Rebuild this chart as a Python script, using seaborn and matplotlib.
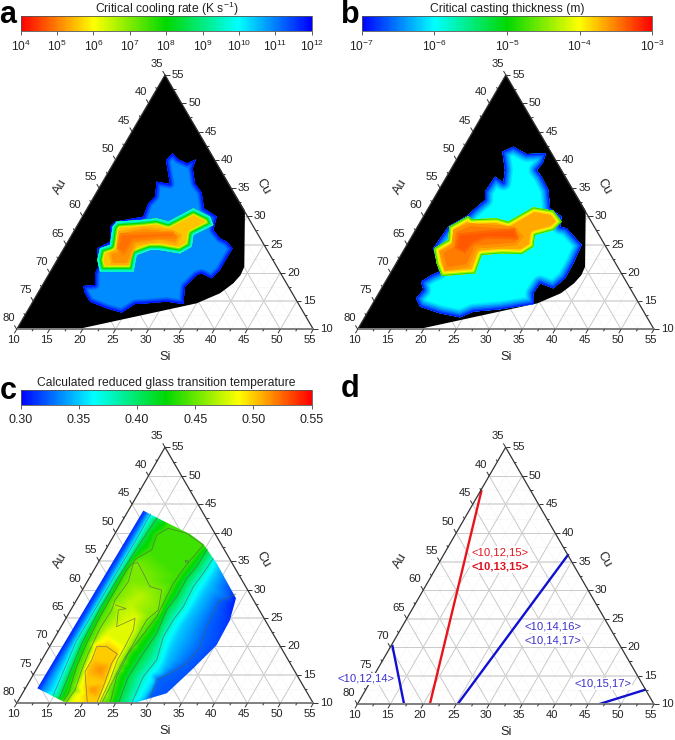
import numpy as np
import pandas as pd
import matplotlib
matplotlib.use("Agg")
import matplotlib.pyplot as plt
import matplotlib.tri as mtri
from matplotlib.collections import LineCollection
from matplotlib.colors import LogNorm, Normalize
from matplotlib.patches import Polygon
from matplotlib.cm import ScalarMappable
import seaborn as sns

# ---- colour scale
scale_hot_to_cold = ["#ff0000", "#ffff00", "#00d800", "#00ffff", "#0000ff"]

# ---- colour bars
a_title = "Critical cooling rate (K s$^{-1}$)"
b_title = "Critical casting thickness (m)"
c_title = "Calculated reduced glass transition temperature"
a_range = (1e4, 1e12)
b_range = (1e-7, 1e-3)
c_range = (0.30, 0.55)
a_ticks = [1e4, 1e5, 1e6, 1e7, 1e8, 1e9, 1e10, 1e11, 1e12]
b_ticks = [1e-7, 1e-6, 1e-5, 1e-4, 1e-3]
c_ticks = [0.30, 0.35, 0.40, 0.45, 0.50, 0.55]

# ---- regions: horizontal position on the Si scale, and Cu (at.%)
a_glass_x = [10, 32.5, 44.63, 44.53, 43.97, 42.86, 40.84, 37.3, 19.86]
a_glass_cu = [10, 55, 31.0, 21.08, 19.6, 18.14, 16.37, 14.6, 10.18]
a_outer_x = [33.66, 34.52, 35.89, 37.2, 36.7, 37.05, 38.06, 38.41, 40.34, 39.83, 40.84, 41.85, 42.76, 41.85,
             40.84, 39.58, 38.06, 37.3, 35.53, 35.28, 32.75, 29.72, 27.95, 25.93, 23.65, 21.12, 20.36, 20.11,
             21.88, 21.88, 22.39, 22.24, 24.16, 24.16, 24.92, 29.21, 29.97, 30.98, 31.24, 33.26, 32.65]
a_outer_cu = [41.13, 40.07, 39.36, 40.07, 38.48, 35.82, 34.17, 31.4, 29.93, 27.57, 26.1, 25.5, 24.33, 22.56,
              20.5, 19.02, 19.9, 19.6, 17.55, 14.48, 14.89, 14.6, 14.48, 12.95, 13.71, 14.89, 16.37, 17.66,
              17.84, 19.9, 21.08, 24.33, 25.5, 28.16, 29.04, 29.93, 32.29, 33.47, 36.12, 35.71, 39.95]
a_core_x = [22.64, 24.16, 24.56, 25.17, 28.96, 31.24, 33.0, 36.8, 39.32, 39.83, 38.31, 36.8, 36.54, 34.77,
            31.74, 30.22, 28.2, 27.7, 22.64, 22.24]
a_core_cu = [24.33, 24.92, 28.16, 29.04, 29.34, 29.63, 29.04, 31.4, 29.93, 28.45, 27.57, 26.69, 24.62, 23.44,
             24.03, 24.03, 23.15, 20.2, 20.2, 22.26]
a_hot_x = [23.9, 25.17, 25.42, 29.21, 33.76, 35.03, 34.27, 31.74, 28.2, 26.94, 24.41]
a_hot_cu = [23.44, 24.03, 27.28, 28.16, 27.57, 26.69, 24.92, 25.5, 24.92, 21.38, 21.38]
a_hottest_x = [25.67, 33.76, 34.27, 31.74, 27.7, 26.28, 25.17]
a_hottest_cu = [26.98, 27.28, 26.1, 26.1, 25.68, 23.15, 24.33]
a_outer_rate = 10 ** 10.9
a_outer_fade = [10 ** 11.1, 10 ** 11.3, 10 ** 11.55, 10 ** 11.85]
a_core_rate = 10 ** 5.55
a_core_fade = [10 ** 6.3, 10 ** 7.2, 10 ** 8.1, 10 ** 9.1, 10 ** 9.9]
a_hot_rate = 10 ** 5.15
a_hot_fade = 10 ** 5.35
a_hottest_rate = 10 ** 4.9
a_hottest_fade = 10 ** 5.02

b_glass_x = [10, 32.5, 44.63, 44.53, 43.97, 42.86, 40.84, 37.3, 19.86]
b_glass_cu = [10, 55, 31.0, 21.08, 19.6, 18.14, 16.37, 14.6, 10.18]
b_outer_x = [33.64, 35.66, 38.6, 38.09, 37.18, 37.94, 38.95, 39.21, 40.98, 40.73, 41.74, 44.02, 42.75, 41.49,
             39.71, 37.69, 36.68, 36.78, 31.61, 27.57, 25.54, 22.5, 19.47, 18.86, 19.97, 19.62, 21.24, 22.4,
             21.49, 23.77, 26.81, 27.57, 29.34, 29.34, 30.86, 32.12, 32.37, 31.97]
b_outer_cu = [42.31, 41.01, 41.13, 39.36, 38.18, 37.0, 34.65, 31.4, 29.93, 28.16, 27.87, 24.92, 21.67, 19.02,
              17.25, 18.14, 16.37, 14.48, 13.54, 13.13, 12.12, 12.83, 14.01, 15.48, 16.96, 18.43, 19.61, 20.2,
              24.33, 28.16, 30.22, 31.11, 32.88, 34.35, 37.0, 35.94, 38.18, 41.43]
b_core_x = [21.59, 23.77, 23.92, 26.81, 27.31, 31.11, 32.88, 36.68, 39.71, 40.98, 39.71, 36.93, 36.68, 34.91,
            31.87, 28.83, 27.82, 22.76, 22.0]
b_core_cu = [24.33, 25.8, 28.16, 30.05, 29.46, 29.63, 29.04, 31.58, 30.99, 29.04, 27.57, 26.69, 24.62, 23.32,
             23.44, 23.15, 19.9, 19.43, 21.67]
b_thick_x = [22.5, 24.27, 24.53, 27.06, 33.89, 35.16, 34.15, 31.61, 28.07, 26.81, 23.26]
b_thick_cu = [23.74, 24.92, 27.57, 28.75, 28.16, 26.39, 24.92, 24.62, 24.33, 21.08, 20.38]
b_thickest_x = [25.29, 33.89, 34.4, 29.59, 27.57, 26.3, 24.78]
b_thickest_cu = [26.98, 27.87, 25.92, 26.1, 25.21, 23.44, 24.33]
b_outer_size = 1e-6
b_outer_fade = [10 ** -6.1, 10 ** -6.22, 10 ** -6.36, 10 ** -6.52, 10 ** -6.7, 10 ** -6.9]
b_core_size = 10 ** -3.67
b_core_fade = [10 ** -3.85, 10 ** -4.05, 10 ** -4.4, 10 ** -4.85]
b_thick_size = 10 ** -3.5
b_thick_fade = 10 ** -3.58
b_thickest_size = 10 ** -3.35
b_thickest_fade = 10 ** -3.42

# ---- panel c: outline and contours (x, Cu), each with its Trg value
c_outline_x = [29.21, 32.75, 36.29, 38.31, 40.34, 43.27, 42.36, 40.34, 36.8, 32.75, 30.22, 27.7, 17.58, 13.13]
c_outline_cu = [43.87, 41.76, 39.76, 38.0, 34.61, 28.46, 24.65, 20.25, 16.15, 11.76, 10.88, 10, 10, 12.64]
c_outline_trg = [0.305, 0.44, 0.44, 0.44, 0.35, 0.305, 0.312, 0.318, 0.32, 0.32, 0.32, 0.355, 0.49, 0.305]

c_edge_x = [13.13, 29.21]
c_edge_cu = [12.64, 43.87]
c_edge_trg = 0.305
c_l033_x = [13.79, 18.19, 23.25, 27.29, 29.72]
c_l033_cu = [12.34, 20.84, 30.8, 38.71, 43.51]
c_l033_trg = 0.33
c_l036_x = [15.56, 19.0, 24.06, 28.1, 30.33]
c_l036_cu = [11.46, 20.84, 30.8, 38.71, 43.28]
c_l036_trg = 0.365
c_l039_x = [16.47, 19.86, 22.64, 25.17, 28.71, 31.24]
c_l039_cu = [10.88, 20.55, 26.7, 31.68, 38.12, 42.52]
c_l039_trg = 0.41
c_l042_x = [17.08, 17.84, 19.1, 20.62, 22.64, 24.66, 26.69, 28.2, 30.48, 31.24, 33.0, 35.79, 38.31, 36.8, 35.53,
            33.76, 32.75, 31.24, 29.72, 26.94, 25.17, 24.16]
c_l042_cu = [10.41, 11.76, 16.44, 20.55, 25.23, 29.33, 33.44, 35.49, 36.95, 39.59, 40.76, 39.88, 37.83, 35.78,
             34.02, 31.09, 28.75, 25.23, 22.89, 18.79, 14.69, 10]
c_l042_trg = 0.44
c_l044_x = [17.48, 18.85, 19.86, 20.87, 22.64, 24.41, 24.92, 26.94, 27.7, 28.35, 29.21, 30.22, 32.0, 31.49,
            29.72, 27.44, 25.93, 24.16, 22.89]
c_l044_cu = [10.12, 12.34, 15.86, 18.79, 23.18, 26.41, 28.16, 31.39, 34.61, 34.73, 32.85, 30.51, 29.92, 26.41,
             24.65, 19.96, 17.03, 12.93, 10]
c_l044_trg = 0.455
c_l047_x = [17.94, 19.35, 20.36, 21.63, 23.65, 25.17, 27.95, 27.7, 26.43, 25.27, 24.16, 22.54]
c_l047_cu = [10, 12.93, 16.15, 20.25, 22.3, 23.48, 24.94, 22.89, 19.96, 17.62, 14.1, 10]
c_l047_trg = 0.48
c_l050_x = [20.72, 20.36, 21.38, 22.13, 23.65, 25.27, 24.41, 23.15, 22.13]
c_l050_cu = [10, 15.57, 17.62, 19.96, 19.96, 18.67, 17.03, 12.93, 10]
c_l050_trg = 0.50
c_notch_x = [25.02, 26.58, 25.42, 25.17]
c_notch_cu = [27.28, 26.64, 26.41, 23.48]
c_notch_trg = 0.47
c_right040_x = [38.92, 37.3, 35.79, 34.27, 32.75, 31.24, 29.21, 26.94, 25.42]
c_right040_cu = [37.13, 34.02, 31.97, 28.75, 26.41, 22.3, 18.79, 14.69, 10]
c_right040_trg = 0.41
c_right038_x = [39.83, 38.31, 36.8, 35.28, 33.76, 32.25, 31.24, 29.21, 27.44]
c_right038_cu = [35.49, 32.85, 30.51, 26.99, 24.65, 21.72, 17.62, 14.69, 10]
c_right038_trg = 0.375
c_right036_x = [40.59, 38.82, 37.3, 35.03, 33.26, 32.25, 30.22, 28.71]
c_right036_cu = [34.02, 30.51, 27.58, 23.48, 19.37, 16.44, 12.34, 10]
c_right036_trg = 0.35
c_right033_x = [43.27, 40.59, 38.82, 37.81, 35.79, 33.26, 31.24, 30.22]
c_right033_cu = [29.22, 27.87, 23.48, 19.96, 17.03, 15.27, 14.1, 10.88]
c_right033_trg = 0.325
c_peak_x = [22.64, 21.38, 28.71, 27.2, 26.0]
c_peak_cu = [15.86, 12.34, 28.75, 27.5, 25.0]
c_peak_trg = [0.515, 0.515, 0.47, 0.472, 0.475]
c_island_x = [35.6, 36.0, 36.0, 35.6, 35.6]
c_island_cu = [35.1, 35.05, 34.8, 34.8, 35.1]

# ---- panel d: composition lines (Si, Cu)
d_red_si = [21.0, 10.1]
d_red_cu = [10.0, 47.5]
d_blue_mid_si = [25.2, 28.9]
d_blue_mid_cu = [10.0, 36.3]
d_blue_left_si = [17.1, 10.1]
d_blue_left_cu = [10.0, 20.4]
d_blue_right_si = [46.6, 52.5]
d_blue_right_cu = [10.0, 12.6]
d_labels = ["<10,12,15>", "<10,13,15>", "<10,14,16>", "<10,14,17>", "<10,12,14>", "<10,15,17>"]
d_label_x = [31.64, 31.64, 39.63, 39.63, 11.31, 47.21]
d_label_cu = [36.56, 34.11, 23.6, 21.15, 14.44, 13.56]
d_label_colors = ["#e01820", "#e01020", "#3a30cc", "#3a30cc", "#3a30cc", "#3a30cc"]
d_label_weights = ["normal", "bold", "normal", "normal", "normal", "normal"]

# ---- ternary axes
scale_start = 10
scale_end = 55
si_ticks = [10, 15, 20, 25, 30, 35, 40, 45, 50, 55]
cu_ticks = [10, 15, 20, 25, 30, 35, 40, 45, 50, 55]
au_ticks = [80, 75, 70, 65, 60, 55, 50, 45, 40, 35]

W, H = 675, 740
sns.set_theme(style="white")
plt.rcParams["font.family"] = ["Liberation Sans", "DejaVu Sans"]
plt.rcParams["mathtext.fontset"] = "custom"
plt.rcParams["mathtext.rm"] = "Liberation Sans"
plt.rcParams["mathtext.default"] = "regular"
INK = "#222222"
TICK_SIZE = 8.1

fig = plt.figure(figsize=(W / 100, H / 100), dpi=100, facecolor="white")
cold_to_hot = sns.blend_palette(scale_hot_to_cold[::-1], n_colors=256, as_cmap=True)
hot_to_cold = sns.blend_palette(scale_hot_to_cold, n_colors=256, as_cmap=True)


def box(x0, x1, y0, y1):
    return [x0 / W, 1 - y1 / H, (x1 - x0) / W, (y1 - y0) / H]


def txy(si, cu):
    si, cu = np.asarray(si, float), np.asarray(cu, float)
    return si + (cu - 10) / 2, cu


def ternary_axes(x0, x1, y0, y1):
    ax = fig.add_axes(box(x0, x1, y0, y1))
    ax.set_xlim(scale_start, scale_end)
    ax.set_ylim(scale_start, scale_end)
    ax.axis("off")
    return ax


def grid(ax):
    minor, major, thick = [], [], []
    for v in np.arange(12.5, 55, 2.5):
        is_major = abs(v / 5 - round(v / 5)) < 1e-6
        bucket = major if is_major else minor
        bucket.append([txy(v, 10), txy(v, 65 - v)])
        (thick if is_major and int(v) in (15, 25, 35, 45) else bucket).append([txy(10, v), txy(65 - v, v)])
        bucket.append([txy(10, v), txy(v, 10)])
    ax.add_collection(LineCollection(minor, colors="#f3f3f3", linewidths=0.4, zorder=1))
    ax.add_collection(LineCollection(major, colors="#c6c6c6", linewidths=0.65, zorder=1))
    ax.add_collection(LineCollection(thick, colors="#d4d4d4", linewidths=1.1, zorder=1))


def frame(ax):
    ax.plot([10, 32.5], [10, 55], color="#333333", lw=0.9, zorder=6, clip_on=False)
    ax.plot([32.5, 55], [55, 10], color="#333333", lw=0.9, zorder=6, clip_on=False)
    ax.plot([10, 55], [10, 10], color="#808080", lw=1.4, zorder=6, clip_on=False)
    segs = []
    for v in np.arange(10, 55.1, 2.5):
        t = 0.7 if abs(v / 5 - round(v / 5)) < 1e-6 else 0.35
        segs.append([txy(v, 10), txy(v, 10 - t)])
        segs.append([txy(10, v), txy(10 - t, v + t)])
        segs.append([txy(65 - v, v), txy(65 - v + t, v)])
    ax.add_collection(LineCollection(segs, colors="#333333", linewidths=0.7, zorder=6, clip_on=False))
    for s, c, au in zip(si_ticks, cu_ticks, au_ticks):
        ax.annotate(str(s), txy(s, 10), xytext=(-3, -11), textcoords="offset pixels", ha="center", va="center",
                    fontsize=TICK_SIZE, color=INK, zorder=8, annotation_clip=False)
        ax.annotate(str(c), txy(65 - c, c), xytext=(13, 0), textcoords="offset pixels", ha="center", va="center",
                    fontsize=TICK_SIZE, color=INK, zorder=8, annotation_clip=False)
        ax.annotate(str(au), txy(10, 90 - au), xytext=(-8, 11), textcoords="offset pixels", ha="center",
                    va="center", fontsize=TICK_SIZE, color=INK, zorder=8, annotation_clip=False)
    ax.annotate("Si", (32.5, 10), xytext=(0, -28), textcoords="offset pixels", ha="center", va="center",
                fontsize=9.2, color=INK, annotation_clip=False)
    ax.annotate("Au", (21.25, 32.5), xytext=(-31, 15), textcoords="offset pixels", ha="center", va="center",
                rotation=60, fontsize=9.2, color=INK, annotation_clip=False)
    ax.annotate("Cu", (43.75, 32.5), xytext=(24, 16), textcoords="offset pixels", ha="center", va="center",
                rotation=-60, fontsize=9.2, color=INK, annotation_clip=False)


def layer(ax, x, y, fill, fades=(), widths=(), z=3):
    xy = np.column_stack([x, y])
    base = Polygon(xy, closed=True, fc=fill, ec="none", zorder=z)
    ax.add_patch(base)
    for col, lw in zip(fades, widths):
        ring = Polygon(xy, closed=True, fill=False, ec=col, lw=lw, joinstyle="round", zorder=z)
        ax.add_patch(ring)
        ring.set_clip_path(base)


def colorbar(x0, x1, y0, y1, cmap, norm, title, title_xy, size, ticks):
    cax = fig.add_axes(box(x0, x1, y0, y1))
    cb = fig.colorbar(ScalarMappable(norm=norm, cmap=cmap), cax=cax, orientation="horizontal", ticks=ticks)
    cb.outline.set_linewidth(0.6)
    cb.outline.set_edgecolor("#555555")
    cb.ax.tick_params(which="major", length=3, width=0.6, color="#444444", labelsize=size, labelcolor=INK, pad=3,
                      bottom=True)
    cb.ax.minorticks_off()
    fig.text(title_xy[0] / W, 1 - title_xy[1] / H, title, ha="center", va="center", fontsize=8.7, color=INK)
    return cb


def fill_in(x, y, v, spacing=1.5):
    """Extra mesh vertices along a read polyline, so the colour mesh follows it."""
    x, y = np.asarray(x, float), np.asarray(y, float)
    v = np.full(len(x), v, float) if np.isscalar(v) else np.asarray(v, float)
    s = np.r_[0, np.cumsum(np.hypot(np.diff(x), np.diff(y)))]
    t = np.unique(np.r_[s, np.arange(0, s[-1], spacing)])
    return pd.DataFrame({"x": np.interp(t, s, x), "cu": np.interp(t, s, y), "trg": np.interp(t, s, v)})


def soften(z, k=7):
    """Box-smooth a gridded field, ignoring the cells outside the mesh."""
    vals = np.where(np.isnan(z), 0.0, z)
    wts = (~np.isnan(z)).astype(float)
    ker = np.ones(k) / k
    for axis in (0, 1):
        vals = np.apply_along_axis(lambda m: np.convolve(m, ker, mode="same"), axis, vals)
        wts = np.apply_along_axis(lambda m: np.convolve(m, ker, mode="same"), axis, wts)
    return np.where(wts > 0, vals / np.maximum(wts, 1e-9), np.nan)


# panel a
norm_a = LogNorm(*a_range)
colorbar(20.7, 311.7, 15.7, 30.7, hot_to_cold, norm_a, a_title, (166.5, 9), 8.6, a_ticks)
ax = ternary_axes(16.7, 313.3, 75, 329.3)
grid(ax)
layer(ax, a_glass_x, a_glass_cu, "black", z=2)
col = lambda v: hot_to_cold(norm_a(v))
layer(ax, a_outer_x, a_outer_cu, col(a_outer_rate), [col(v) for v in a_outer_fade], [6.5, 5, 3.5, 1.8])
layer(ax, a_core_x, a_core_cu, col(a_core_rate), [col(v) for v in a_core_fade], [8.5, 7, 5.4, 3.6, 1.8], z=4)
layer(ax, a_hot_x, a_hot_cu, col(a_hot_rate), [col(a_hot_fade)], [3], z=4)
layer(ax, a_hottest_x, a_hottest_cu, col(a_hottest_rate), [col(a_hottest_fade)], [3], z=4)
frame(ax)

# panel b
norm_b = LogNorm(*b_range)
colorbar(361.7, 652.3, 15.7, 30.7, cold_to_hot, norm_b, b_title, (507, 9), 8.6, b_ticks)
ax = ternary_axes(357.7, 654, 75, 329.3)
grid(ax)
layer(ax, b_glass_x, b_glass_cu, "black", z=2)
col = lambda v: cold_to_hot(norm_b(v))
layer(ax, b_outer_x, b_outer_cu, col(b_outer_size), [col(v) for v in b_outer_fade], [11.5, 9.5, 7.5, 5.5, 3.5, 1.6])
layer(ax, b_core_x, b_core_cu, col(b_core_size), [col(v) for v in b_core_fade], [6.5, 4.6, 3, 1.4], z=4)
layer(ax, b_thick_x, b_thick_cu, col(b_thick_size), [col(b_thick_fade)], [4], z=4)
layer(ax, b_thickest_x, b_thickest_cu, col(b_thickest_size), [col(b_thickest_fade)], [3], z=4)
frame(ax)

# panel c
norm_c = Normalize(*c_range)
colorbar(20.7, 311.7, 390, 405.3, cold_to_hot, norm_c, c_title, (166, 383), 9.0, c_ticks)
ax = ternary_axes(16.7, 313.3, 447.3, 703.3)
grid(ax)
sets = [(c_edge_x, c_edge_cu, c_edge_trg),
        (c_outline_x[:11], c_outline_cu[:11], c_outline_trg[:11]),
        (c_l033_x, c_l033_cu, c_l033_trg), (c_l036_x, c_l036_cu, c_l036_trg),
        (c_l039_x, c_l039_cu, c_l039_trg), (c_l042_x, c_l042_cu, c_l042_trg),
        (c_l044_x, c_l044_cu, c_l044_trg), (c_l047_x, c_l047_cu, c_l047_trg),
        (c_l050_x, c_l050_cu, c_l050_trg), (c_notch_x, c_notch_cu, c_notch_trg),
        (c_right040_x, c_right040_cu, c_right040_trg), (c_right038_x, c_right038_cu, c_right038_trg),
        (c_right036_x, c_right036_cu, c_right036_trg), (c_right033_x, c_right033_cu, c_right033_trg)]
rows = [fill_in(*item) for item in sets]
rows.append(pd.DataFrame({"x": c_outline_x[11:], "cu": c_outline_cu[11:], "trg": c_outline_trg[11:]}))
rows.append(pd.DataFrame({"x": c_peak_x, "cu": c_peak_cu, "trg": c_peak_trg}))
field = pd.concat(rows).round(3).drop_duplicates(subset=["x", "cu"]).reset_index(drop=True)
tri = mtri.Triangulation(field["x"], field["cu"])
interp = mtri.LinearTriInterpolator(tri, field["trg"].to_numpy())
gx, gy = np.meshgrid(np.linspace(scale_start, scale_end, 450), np.linspace(scale_start, scale_end, 450))
gz = soften(np.ma.filled(interp(gx, gy), np.nan))
clip = Polygon(np.column_stack([c_outline_x, c_outline_cu]), closed=True, transform=ax.transData, fc="none", ec="none")
ax.add_patch(clip)
im = ax.imshow(gz, extent=(scale_start, scale_end, scale_start, scale_end), origin="lower", aspect="auto",
               cmap=cold_to_hot, norm=norm_c, interpolation="bilinear", zorder=3)
im.set_clip_path(clip)
for xs, cus in [(c_l036_x, c_l036_cu), (c_l039_x, c_l039_cu), (c_l042_x, c_l042_cu), (c_l044_x, c_l044_cu),
                (c_l047_x[5:], c_l047_cu[5:]), (c_notch_x, c_notch_cu), (c_l050_x, c_l050_cu),
                (c_right040_x, c_right040_cu), (c_right038_x, c_right038_cu), (c_right033_x, c_right033_cu),
                (c_island_x, c_island_cu)]:
    sns.lineplot(x=xs, y=cus, sort=False, estimator=None, color="#4f5f4f", lw=0.55, alpha=0.7, ax=ax, zorder=4,
                 legend=False)
ax.set_xlim(scale_start, scale_end)
ax.set_ylim(scale_start, scale_end)
frame(ax)

# panel d
ax = ternary_axes(357.3, 654, 447.3, 704.3)
grid(ax)
for si, cu, color in [(d_red_si, d_red_cu, "#e8141c"), (d_blue_mid_si, d_blue_mid_cu, "#1010d0"),
                      (d_blue_left_si, d_blue_left_cu, "#1010d0"), (d_blue_right_si, d_blue_right_cu, "#1010d0")]:
    x, y = txy(si, cu)
    sns.lineplot(x=x, y=y, sort=False, estimator=None, color=color, lw=1.7, ax=ax, zorder=5, legend=False,
                 solid_capstyle="butt")
ax.set_xlim(scale_start, scale_end)
ax.set_ylim(scale_start, scale_end)
frame(ax)
for s, x, y, c, w in zip(d_labels, d_label_x, d_label_cu, d_label_colors, d_label_weights):
    ax.text(x, y, s, color=c, fontweight=w, fontsize=8.1, ha="center", va="center", zorder=7, clip_on=False,
            bbox=dict(boxstyle="square,pad=0.12", fc="white", ec="none"))

# panel letters
for s, px, py in [("a", 8, 15), ("b", 350, 15), ("c", 8, 391), ("d", 350, 389)]:
    fig.text(px / W, 1 - py / H, s, fontsize=22, fontweight="bold", color="black", ha="center", va="center")

fig.savefig("out.png", dpi=100, facecolor="white")
